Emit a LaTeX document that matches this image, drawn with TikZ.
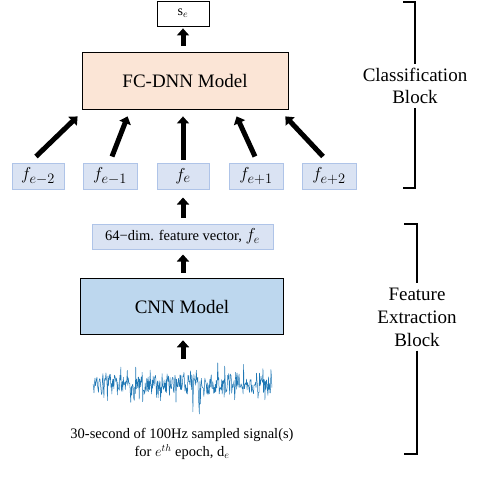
\documentclass[tikz,border=0pt]{standalone}
\usepackage{fontspec}
\setmainfont{Liberation Serif}
\usetikzlibrary{arrows.meta,calc}
\definecolor{peach}{HTML}{FBE5D6}
\definecolor{cnnblue}{HTML}{BDD7EE}
\definecolor{featfill}{HTML}{DAE3F3}
\definecolor{featline}{HTML}{AFC4E8}
\definecolor{sigblue}{HTML}{1F77B4}
\begin{document}
\begin{tikzpicture}[x=1pt,y=-1pt,
  plainbox/.style={draw=black, line width=0.8pt, inner sep=0pt},
  featbox/.style={draw=featline, fill=featfill, line width=1pt, inner sep=0pt,
     minimum height=26pt, font=\fontsize{19}{21}\selectfont},
  bigtext/.style={font=\fontsize{19}{22}\selectfont},
  blk/.style={line width=5pt, -{Triangle[width=12pt,length=7pt]}},
  brk/.style={line width=2.6pt, line cap=butt},
  sig/.style={draw=sigblue, line width=0.5pt, line join=round}]
\useasboundingbox (0,0) rectangle (488,496);
% top output
\node[plainbox, minimum width=52pt, minimum height=25pt,
      font=\fontsize{14}{16}\selectfont] (se) at (183,13.5) {s$_e$};
% FC-DNN
\node[plainbox, fill=peach, minimum width=206pt, minimum height=57pt, bigtext]
   (fc) at (185,80.5) {FC-DNN Model};
% feature boxes
\node[featbox, minimum width=52pt] (fm2) at (38,176) {$f_{e-2}$};
\node[featbox, minimum width=54pt] (fm1) at (110,176) {$f_{e-1}$};
\node[featbox, minimum width=52pt] (f0) at (183,176) {$f_{e}$};
\node[featbox, minimum width=54pt] (fp1) at (256,176) {$f_{e+1}$};
\node[featbox, minimum width=54pt] (fp2) at (329,176) {$f_{e+2}$};
% feature vector
\node[featbox, minimum width=181pt, minimum height=25pt,
      font=\fontsize{14.5}{17}\selectfont] (fv) at (182.5,236.5)
   {64\textminus dim. feature vector, {\fontsize{17}{17}\selectfont$f_e$}};
% CNN
\node[plainbox, line width=1.5pt, fill=cnnblue, minimum width=203pt,
      minimum height=56pt, bigtext] (cnn) at (182,306.5) {CNN Model};
% signal
\pgfmathsetseed{4242}
\draw[sig] (93,384) \foreach \i in {1,...,360}{
   -- ({93+\i*0.497},{382+10*rand+22*rand*rand*rand+38*abs(rand*rand*rand*rand)})};
\coordinate (sigtop) at (183,359);
\node[align=center, font=\fontsize{14.5}{18}\selectfont] (sigtxt) at (182,444)
   {30-second of 100Hz sampled signal(s)\\for $e^{th}$ epoch, d$_e$};
% arrows
\draw[blk] ($(fc.north)+(-2,-6)$) -- ($(se.south)+(0,2)$);
\draw[blk] ($(fm2.north)+(-2,-6)$) -- ($(fc.south west)+(-4,7)$);
\draw[blk] ($(fm1.north)+(2,-6)$) -- ($(fc.south west)+(46,7)$);
\draw[blk] ($(f0.north)+(0,-3)$) -- ($(fc.south)+(-2,7)$);
\draw[blk] ($(fp1.north)+(-1,-6)$) -- ($(fc.south west)+(155,7)$);
\draw[blk] ($(fp2.north)+(-6,-6)$) -- ($(fc.south east)+(-3,7)$);
\draw[blk] ($(fv.north)+(0.5,-6)$) -- ($(f0.south)+(0,8)$);
\draw[blk] ($(cnn.north)+(1,-5)$) -- ($(fv.south)+(0.5,5)$);
\draw[blk] (sigtop) -- ($(cnn.south)+(1,5)$);
% brackets
\node[align=center, bigtext, inner sep=4pt] (cls) at (415,86) {Classification\\Block};
\draw[brk] (403,2) -| (cls.north);
\draw[brk] (cls.south) |- (403,188);
\node[align=center, font=\fontsize{19}{23}\selectfont, inner sep=4pt] (fe) at (417,317)
   {Feature\\Extraction\\Block};
\draw[brk] (404,224) -| (fe.north);
\draw[brk] (fe.south) |- (404,454);
\end{tikzpicture}
\end{document}
